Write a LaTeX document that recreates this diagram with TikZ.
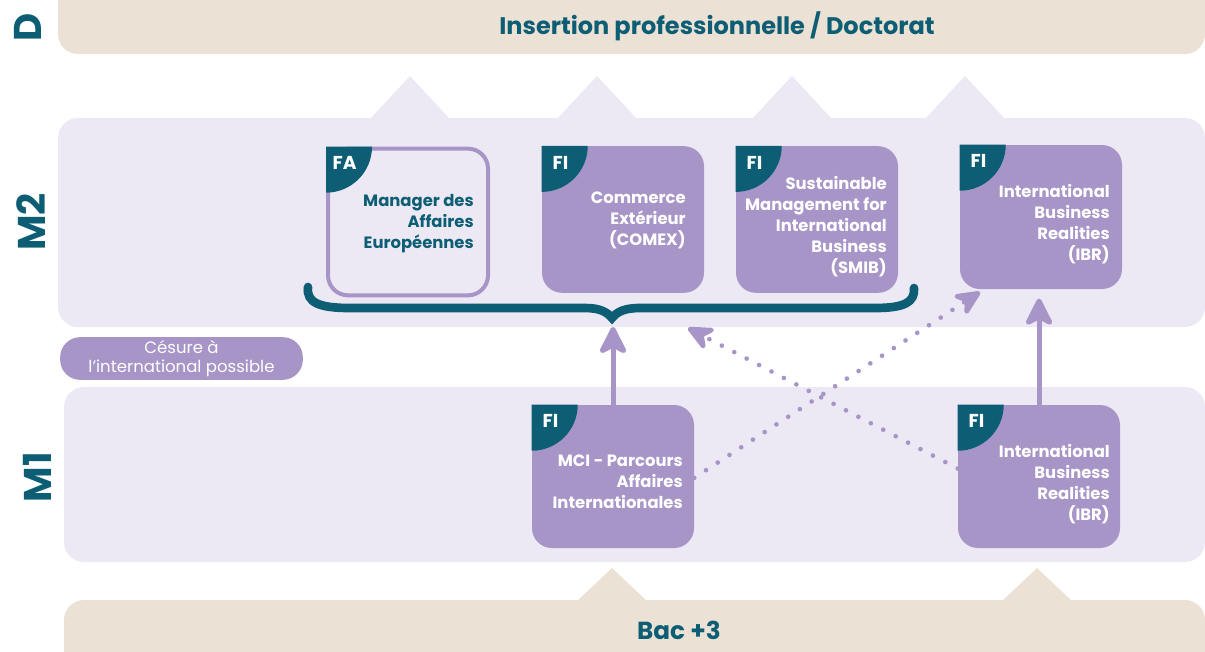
\documentclass[tikz,border=0pt]{standalone}
\usepackage{fontspec}
\setmainfont{Poppins}
\usepackage{tikz}
\usetikzlibrary{arrows.meta}
\definecolor{bleu}{HTML}{0D5E75}
\definecolor{mauve}{HTML}{A895C8}
\definecolor{lavande}{HTML}{ECE9F4}
\definecolor{sable}{HTML}{EBE1D5}
\tikzstyle{band}=[rounded corners=15pt]
\tikzstyle{prog}=[fill=mauve, rounded corners=15pt, minimum width=121.5pt, minimum height=110pt, inner sep=0pt]
\tikzstyle{progtext}=[text=white, font=\bfseries\fontsize{12.3}{15.75}\selectfont, align=right, anchor=east, inner sep=0pt]
\tikzstyle{tabtext}=[text=white, font=\bfseries\fontsize{14}{14}\selectfont, inner sep=0pt]
\tikzstyle{level}=[text=bleu, font=\bfseries\fontsize{29}{29}\selectfont, rotate=90, inner sep=0pt]
\tikzstyle{arrow}=[draw=mauve, line width=3.75pt, -{Stealth[length=24pt, width=24pt, inset=6pt, round]}]
\tikzstyle{dotarrow}=[draw=mauve, line width=3.5pt, line cap=round, dash pattern=on 0pt off 10.5pt, -{Stealth[length=24pt, width=22pt, inset=8pt, round, sep=0pt]}]

\newcommand{\tabFI}[2]{%
  \fill[bleu] (#1.north west) -- ([xshift=34.5pt]#1.north west)
    arc[start angle=0, end angle=-90, radius=34.5pt] -- cycle;
  \node[tabtext] at ([shift={(14pt,-12.5pt)}]#1.north west) {#2};}

\begin{document}
\begin{tikzpicture}[x=0.75pt, y=-0.75pt]
  \useasboundingbox (0,0) rectangle (1205,651);
  \begin{scope}
    % bandes
    \fill[sable, band] (58,-20) rectangle (1205,54);
    \fill[lavande, band] (58,118) rectangle (1205,327);
    \fill[lavande, band] (64,387) rectangle (1205,562);
    \fill[sable, band] (64,600) rectangle (1205,680);
    \foreach \x in {410,597,792,965}
      \fill[lavande] (\x-40,119) -- (\x,76) -- (\x+40,119) -- cycle;
    \foreach \x in {612,1037}
      \fill[sable] (\x-35,601) -- (\x,568) -- (\x+35,601) -- cycle;

    \node (dlabel) at (28,27)[level] {D};
    \node (mtwo) at (31,222)[level] {M2};
    \node (mone) at (37,477)[level] {M1};
    \node (insertion) at (717,26)[text=bleu, font=\bfseries\fontsize{18}{18}\selectfont] {Insertion professionnelle / Doctorat};
    \node (bac) at (679,630)[text=bleu, font=\bfseries\fontsize{18.5}{18.5}\selectfont] {Bac +3};
  \end{scope}
  \begin{scope}
    % parcours M2
    \node (fa) at (408,222)[prog, fill=lavande, draw=mauve, line width=3pt, minimum width=120pt, minimum height=110pt] {};
    \node (comex) at (623,219.5)[prog] {};
    \node (smib) at (817,219.5)[prog] {};
    \node (ibrtwo) at (1041,217)[prog, minimum height=108pt] {};
    % parcours M1
    \node (mci) at (613,476.5)[prog, minimum height=107.25pt] {};
    \node (ibrone) at (1039,476.5)[prog, minimum height=107.25pt] {};

    \tabFI{fa}{FA}
    \tabFI{comex}{FI}
    \tabFI{smib}{FI}
    \tabFI{ibrtwo}{FI}
    \tabFI{mci}{FI}
    \tabFI{ibrone}{FI}

    \node at (474,224)[progtext, text=bleu] {Manager des\\Affaires\\Européennes};
    \node at (686,220)[progtext] {Commerce\\Extérieur\\(COMEX)};
    \node at (887,227)[progtext] {Sustainable\\Management for\\International\\Business\\(SMIB)};
    \node at (1110,224.5)[progtext] {International\\Business\\Realities\\(IBR)};
    \node at (683,482)[progtext] {MCI - Parcours\\Affaires\\Internationales};
    \node at (1110,484.5)[progtext] {International\\Business\\Realities\\(IBR)};

    \node (cesure) at (181.5,358.5)[fill=mauve, rounded corners=15pt, minimum width=182pt, minimum height=32pt, inner sep=0pt, text=white, align=center, font=\fontsize{12.4}{14.25}\selectfont] {Césure à\\l’international possible};
  \end{scope}
  \begin{scope}
    % accolade
    \draw[bleu, line width=6.5pt, line cap=round] (308,287) .. controls (306,303) and (320,308) .. (350,308)
      -- (585,308) .. controls (600,308) and (607,312) .. (612,318)
      .. controls (617,312) and (624,308) .. (640,308)
      -- (875,308) .. controls (905,308) and (915,302) .. (914,288);
    \coordinate (bracetip) at (613,327);
    \coordinate (ibrin) at (980,292);
    \coordinate (comexin) at (688,328);

    \draw[arrow] (mci.north) -- (bracetip);
    \draw[arrow] (ibrone.north) -- ([yshift=-7pt]ibrone.north |- ibrtwo.south);
    \draw[dotarrow] ([yshift=-1pt]mci.east) -- (ibrin);
    \draw[dotarrow] ([yshift=6pt]ibrone.west) -- (comexin);
  \end{scope}
\end{tikzpicture}
\end{document}
